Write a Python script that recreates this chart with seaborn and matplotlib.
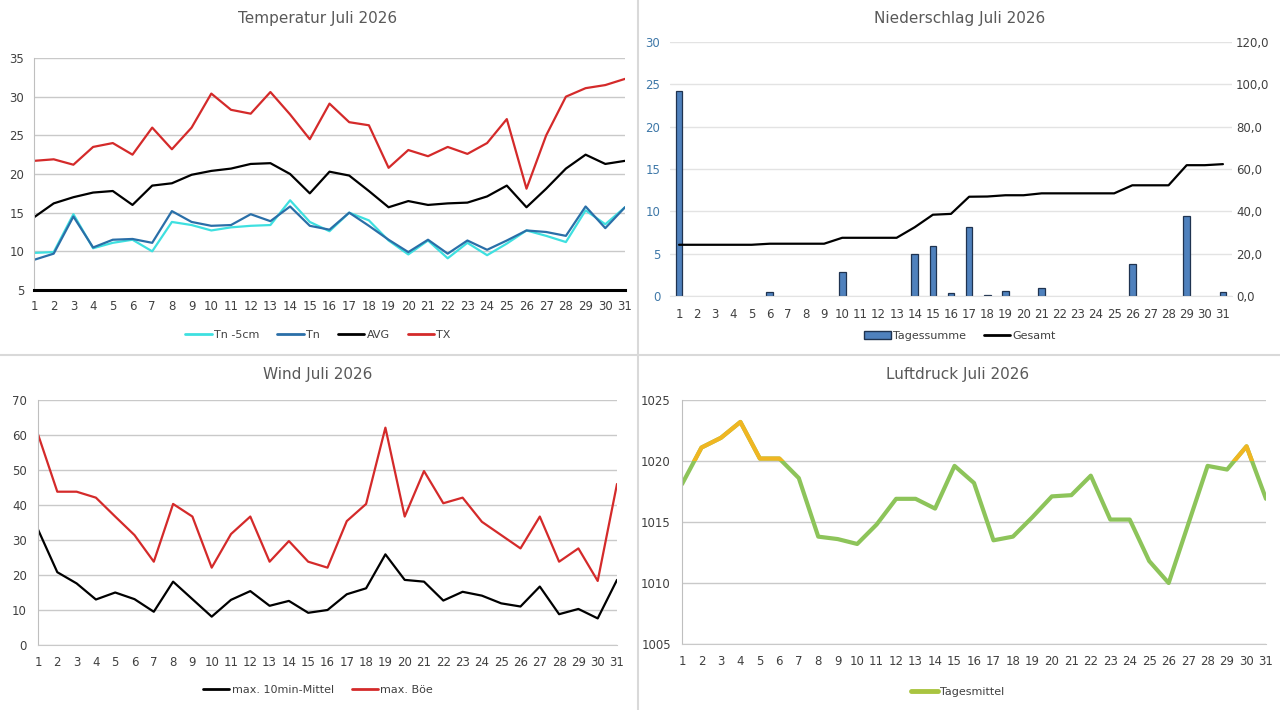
import seaborn as sns
import matplotlib.pyplot as plt
from matplotlib.lines import Line2D
from matplotlib.patches import Patch, Rectangle

# ---------------------------------------
# Daten Juli 2026
# ---------------------------------------
days = list(range(1, 32))

tn_5cm = [9.8, 9.9, 14.8, 10.4, 11.1, 11.5, 10.0, 13.8, 13.4, 12.7, 13.1, 13.3, 13.4, 16.6, 13.8,
          12.6, 15.0, 14.0, 11.4, 9.6, 11.4, 9.1, 11.1, 9.5, 11.0, 12.7, 12.0, 11.2, 15.3, 13.5, 15.7]
tn = [8.9, 9.7, 14.5, 10.5, 11.5, 11.6, 11.1, 15.2, 13.8, 13.3, 13.4, 14.8, 13.9, 15.8, 13.3,
      12.8, 15.0, 13.3, 11.5, 9.9, 11.5, 9.7, 11.4, 10.2, 11.4, 12.7, 12.5, 12.0, 15.8, 13.0, 15.7]
avg = [14.4, 16.2, 17.0, 17.6, 17.8, 16.0, 18.5, 18.8, 19.9, 20.4, 20.7, 21.3, 21.4, 20.0, 17.5,
       20.3, 19.8, 17.8, 15.7, 16.5, 16.0, 16.2, 16.3, 17.1, 18.5, 15.7, 18.1, 20.7, 22.5, 21.3, 21.7]
tx = [21.7, 21.9, 21.2, 23.5, 24.0, 22.5, 26.0, 23.2, 26.0, 30.4, 28.3, 27.8, 30.6, 27.7, 24.5,
      29.1, 26.7, 26.3, 20.8, 23.1, 22.3, 23.5, 22.6, 24.0, 27.1, 18.1, 25.0, 30.0, 31.1, 31.5, 32.3]

rain_day = [24.2, 0, 0, 0, 0, 0.5, 0, 0, 0, 2.8, 0, 0, 0, 5.0, 5.9,
            0.4, 8.1, 0.15, 0.6, 0, 0.9, 0, 0, 0, 0, 3.8, 0, 0, 9.5, 0, 0.5]
rain_total = [24.2, 24.2, 24.2, 24.2, 24.2, 24.7, 24.7, 24.7, 24.7, 27.5, 27.5, 27.5, 27.5, 32.5, 38.4,
              38.8, 46.9, 47.0, 47.6, 47.6, 48.5, 48.5, 48.5, 48.5, 48.5, 52.3, 52.3, 52.3, 61.8, 61.8, 62.3]

wind_mean = [33.0, 20.8, 17.6, 13.0, 15.0, 13.1, 9.5, 18.1, 13.1, 8.1, 12.9, 15.4, 11.2, 12.6, 9.2,
             10.0, 14.5, 16.2, 25.9, 18.6, 18.1, 12.7, 15.2, 14.1, 11.9, 11.0, 16.7, 8.8, 10.3, 7.6, 18.6]
wind_gust = [60.2, 43.8, 43.8, 42.1, 36.7, 31.4, 23.8, 40.3, 36.7, 22.1, 31.7, 36.7, 23.8, 29.7, 23.8,
             22.1, 35.4, 40.3, 62.1, 36.7, 49.7, 40.5, 42.1, 35.2, 31.4, 27.6, 36.7, 23.8, 27.6, 18.3, 46.0]

pressure = [1018.1, 1021.1, 1021.9, 1023.2, 1020.2, 1020.2, 1018.6, 1013.8, 1013.6, 1013.2, 1014.8,
            1016.9, 1016.9, 1016.1, 1019.6, 1018.2, 1013.5, 1013.8, 1015.4, 1017.1, 1017.2, 1018.8,
            1015.2, 1015.2, 1011.8, 1010.0, 1014.8, 1019.6, 1019.3, 1021.2, 1016.9]

W, H = 1280, 710
TXT = '#404040'
GRID = '#c9c9c9'

sns.set_style("white")
plt.rcParams['font.family'] = ['DejaVu Sans']

fig = plt.figure(figsize=(W / 100, H / 100), dpi=100)


def px_axes(x0, y0, x1, y1):
    # Achsen in Pixelkoordinaten anlegen
    return fig.add_axes([x0 / W, 1 - y1 / H, (x1 - x0) / W, (y1 - y0) / H])


def style(ax, grid=GRID, left_spine=True, pad=5):
    for s in ['top', 'right']:
        ax.spines[s].set_visible(False)
    ax.spines['left'].set_visible(left_spine)
    ax.spines['left'].set_color('#bfbfbf')
    ax.spines['bottom'].set_color(grid)
    ax.yaxis.grid(True, color=grid, lw=1)
    ax.xaxis.grid(False)
    ax.set_axisbelow(True)
    ax.set_xticks(days)
    ax.set_xticklabels([str(d) for d in days])
    ax.tick_params(length=0, labelsize=8.5, colors=TXT, pad=pad)
    ax.set_xlabel('')
    ax.set_ylabel('')


def title(x, y, text):
    fig.text(x / W, 1 - y / H, text, ha='center', va='center', fontsize=11, color='#595959')


def legend(x, y, handles, labels):
    fig.legend(handles, labels, loc='center', bbox_to_anchor=(x / W, 1 - y / H), ncol=len(handles),
               frameon=False, fontsize=8, handlelength=2.4, handletextpad=0.2, columnspacing=1.6,
               labelcolor=TXT)


# Temperatur
ax = px_axes(34, 58, 625, 290)
cols_t = {'Tn -5cm': '#3ee0e0', 'Tn': '#2a6fa8', 'AVG': 'black', 'TX': '#d42a2a'}
for name, vals in zip(cols_t, [tn_5cm, tn, avg, tx]):
    sns.lineplot(x=days, y=vals, color=cols_t[name], lw=1.6, ax=ax, legend=False)
ax.set_xlim(1, 31)
ax.set_ylim(5, 35)
style(ax, pad=7)
ax.spines['bottom'].set_color('black')
ax.spines['bottom'].set_linewidth(2.2)
title(318, 18, 'Temperatur Juli 2026')
legend(318, 335, [Line2D([], [], color=c, lw=2) for c in cols_t.values()], list(cols_t))

# Niederschlag
ax = px_axes(670, 42, 1232, 296)
sns.barplot(x=days, y=rain_day, native_scale=True, width=0.37, color='#4f81bd', saturation=1,
            edgecolor='#1f3350', linewidth=0.9, errorbar=None, ax=ax)
for bar in ax.patches:
    if bar.get_height() == 0:
        bar.set_visible(False)
ax.set_xlim(0.5, 31.5)
ax.set_ylim(0, 30)
style(ax, grid='#e3e3e3', left_spine=False, pad=9)
ax.tick_params(axis='y', colors='#3f78a8', pad=7)
ax2 = ax.twinx()
sns.lineplot(x=days, y=rain_total, color='black', lw=1.6, ax=ax2, legend=False)
ax2.set_ylim(0, 120)
ax2.set_yticks(range(0, 121, 20))
ax2.set_yticklabels([f'{v:.1f}'.replace('.', ',') for v in range(0, 121, 20)])
ax2.tick_params(length=0, labelsize=8.5, colors=TXT, pad=3)
ax2.set_ylabel('')
for s in ax2.spines.values():
    s.set_visible(False)
title(960, 18, 'Niederschlag Juli 2026')
legend(960, 336, [Patch(facecolor='#4f81bd', edgecolor='#1f3350'), Line2D([], [], color='black', lw=2)],
       ['Tagessumme', 'Gesamt'])

# Wind
ax = px_axes(38, 400, 617, 645)
sns.lineplot(x=days, y=wind_mean, color='black', lw=1.6, ax=ax, legend=False)
sns.lineplot(x=days, y=wind_gust, color='#d42a2a', lw=1.6, ax=ax, legend=False)
ax.set_xlim(1, 31)
ax.set_ylim(0, 70)
style(ax, pad=8)
title(318, 375, 'Wind Juli 2026')
legend(318, 690, [Line2D([], [], color='black', lw=2), Line2D([], [], color='#d42a2a', lw=2)],
       ['max. 10min-Mittel', 'max. Böe'])

# Luftdruck
ax = px_axes(682, 400, 1266, 644)
sns.lineplot(x=days, y=pressure, color='#8dc45a', lw=3, ax=ax, legend=False)
sns.lineplot(x=days, y=pressure, color='#f0b622', lw=3, ax=ax, legend=False)
ax.lines[-1].set_clip_path(Rectangle((0, 1020), 40, 10, transform=ax.transData))
ax.set_xlim(1, 31)
ax.set_ylim(1005, 1025)
ax.set_yticks(range(1005, 1026, 5))
style(ax, pad=8)
title(958, 375, 'Luftdruck Juli 2026')
legend(958, 692, [Line2D([], [], color='#a9c440', lw=3.5)], ['Tagesmittel'])

# Trennlinien zwischen den Diagrammen
fig.add_artist(Line2D([638 / W, 638 / W], [0, 1], color='#d9d9d9', lw=1.5))
fig.add_artist(Line2D([0, 1], [1 - 355 / H, 1 - 355 / H], color='#d9d9d9', lw=1.5))

fig.savefig('out.png', dpi=100)
